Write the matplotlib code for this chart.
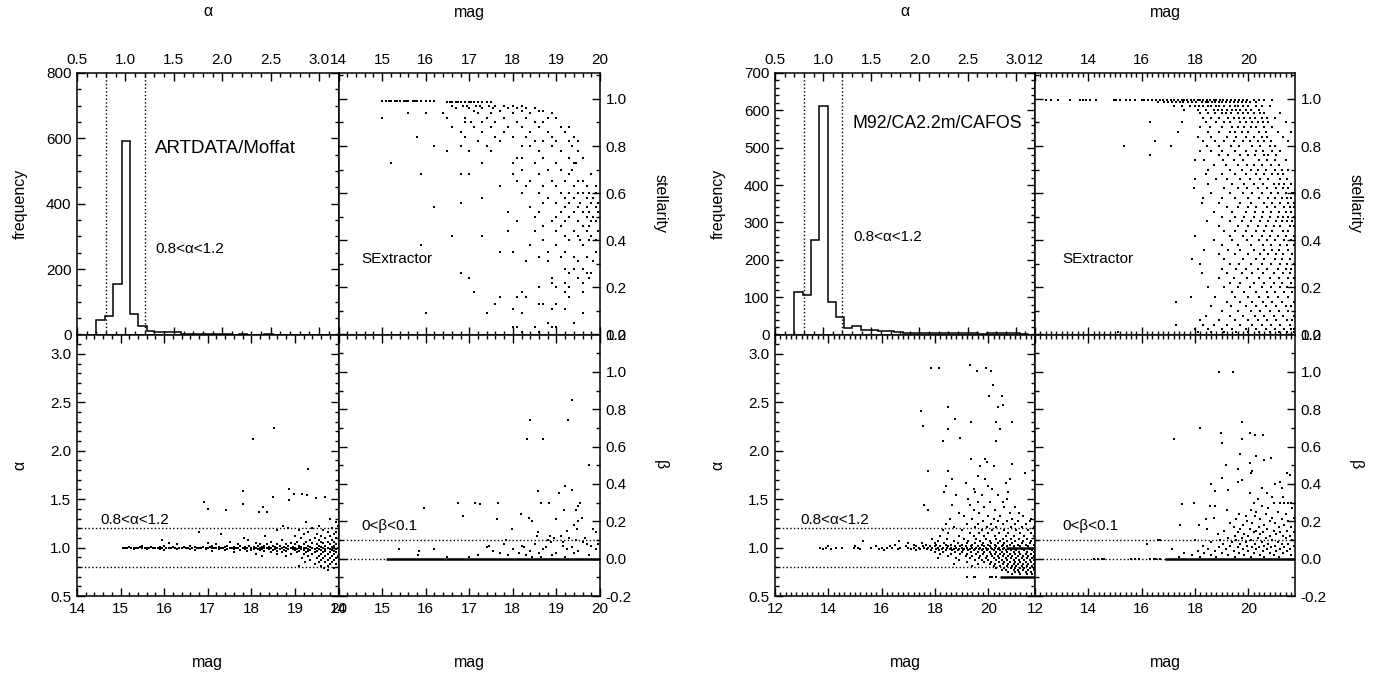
import numpy as np
import matplotlib
matplotlib.use('Agg')
import matplotlib.pyplot as plt
from matplotlib.ticker import MultipleLocator

plt.rcParams['font.family'] = ['Liberation Sans', 'DejaVu Sans']

# ---------------- data ----------------
hist_edges = [0.70, 0.79, 0.87, 0.96, 1.05, 1.13, 1.22, 1.30, 1.39, 1.48, 1.57, 1.65, 1.74, 1.83,
              1.91, 2.00, 2.09, 2.17, 2.26, 2.35, 2.43, 2.52, 2.61, 2.70, 2.78, 2.87, 2.96, 3.04, 3.13]
hist_left = [44, 56, 153, 592, 63, 27, 12, 8, 7, 8, 3, 2, 2, 1, 1, 1, 0, 1, 0, 0, 1, 0, 0, 0, 0, 0, 0, 0]
hist_right = [114, 107, 252, 613, 87, 47, 18, 24, 12, 12, 9, 9, 8, 5, 3, 3, 3, 3, 4, 4, 4, 3, 2, 3, 3, 4, 4, 2]

# rows: (value, [mag, mag, ...])
stel_left = [
    (0.99, [15.0, 15.1, 15.15, 15.2, 15.3, 15.35, 15.4, 15.5, 15.55, 15.6, 15.7, 15.75, 15.8, 15.9, 16.0, 16.1, 16.2]),
    (0.985, [16.5, 16.55, 16.6, 16.7, 16.75, 16.8, 16.9, 17.0, 17.05, 17.1, 17.2, 17.3, 17.4, 17.5]),
    (0.97, [16.6, 16.85, 16.95, 17.15, 17.25, 17.45, 17.6, 17.8, 18.0, 18.2]),
    (0.96, [16.7, 17.0, 17.3, 17.55, 17.9, 18.1, 18.3, 18.5]),
    (0.95, [17.1, 17.7, 18.2, 18.6, 18.7]),
    (0.94, [15.6, 16.0, 16.4, 17.2, 17.5, 18.0, 18.4, 18.9]),
    (0.92, [15.0, 16.5, 16.9, 17.4, 17.8, 18.3, 18.8, 19.0]),
    (0.90, [16.9, 17.05, 17.3, 17.6, 18.1, 18.5, 18.7]),
    (0.88, [16.6, 17.1, 17.5, 17.9, 18.2, 18.6, 19.1, 19.3]),
    (0.86, [16.8, 17.3, 17.8, 18.4, 18.8, 19.2]),
    (0.84, [15.8, 16.9, 17.6, 18.0, 18.3, 18.9, 19.4]),
    (0.82, [17.2, 17.7, 18.5, 18.7, 19.0, 19.3, 19.5]),
    (0.80, [16.2, 16.8, 17.4, 18.2, 18.4, 18.9, 19.35]),
    (0.78, [16.5, 17.0, 17.5, 18.6, 19.1, 19.5]),
    (0.75, [18.1, 18.2, 18.7, 19.3, 19.6]),
    (0.73, [15.2, 17.3, 18.0, 18.5, 19.0, 19.4, 19.45]),
    (0.70, [18.2, 18.8, 19.1, 19.35]),
    (0.68, [15.9, 16.8, 17.0, 18.0, 18.6, 19.3, 19.8]),
    (0.65, [18.1, 18.4, 18.9, 19.2, 19.5, 19.6]),
    (0.63, [17.7, 18.3, 18.7, 19.0, 19.4, 19.7, 19.9]),
    (0.60, [18.2, 18.6, 19.1, 19.3, 19.5, 19.6, 19.75, 19.9]),
    (0.58, [17.3, 18.8, 19.2, 19.4, 19.7, 19.85]),
    (0.56, [16.8, 18.7, 19.0, 19.3, 19.55, 19.8, 19.95]),
    (0.54, [16.2, 18.4, 19.2, 19.5, 19.7, 19.9]),
    (0.52, [17.9, 18.6, 19.1, 19.4, 19.6, 19.75, 19.95]),
    (0.50, [18.5, 19.0, 19.3, 19.7, 19.85]),
    (0.48, [18.1, 18.9, 19.2, 19.5, 19.8, 19.9]),
    (0.46, [18.7, 19.1, 19.6, 19.75]),
    (0.44, [17.9, 18.5, 19.0, 19.4, 19.7, 19.95]),
    (0.42, [16.6, 17.3, 19.2, 19.5, 19.8]),
    (0.40, [18.7, 19.3, 19.55, 19.75, 19.9]),
    (0.38, [15.9, 18.4, 19.0, 19.6]),
    (0.35, [17.7, 18.0, 18.8, 19.2, 19.9]),
    (0.33, [18.6, 19.1, 19.4, 19.7]),
    (0.31, [18.3, 18.8, 19.5, 19.85]),
    (0.28, [19.2, 19.4, 19.6]),
    (0.26, [16.8, 19.3, 19.7, 19.8]),
    (0.24, [17.0, 18.9, 19.5, 19.75]),
    (0.22, [18.9, 19.2, 19.6]),
    (0.20, [18.6, 19.0, 19.3]),
    (0.18, [17.1, 18.2, 19.2, 19.6]),
    (0.16, [17.7, 18.1, 18.3, 19.3]),
    (0.13, [17.6, 18.6, 18.7, 19.0]),
    (0.11, [18.0, 18.9, 19.2]),
    (0.09, [16.0, 17.4, 18.2, 19.6]),
    (0.05, [18.8, 19.4]),
    (0.03, [18.0, 18.1, 18.5, 18.9, 19.0]),
    (0.01, [18.2, 18.6]),
]

alpha_left = [
    (2.23, [18.53]), (2.12, [18.03]), (1.81, [19.3]), (1.60, [18.86]), (1.58, [17.8]),
    (1.55, [18.97, 19.17]), (1.54, [19.27]), (1.52, [18.49, 19.7]), (1.51, [19.49]),
    (1.49, [18.86]), (1.47, [16.92]), (1.45, [17.82]), (1.42, [18.26]), (1.40, [17.0]),
    (1.39, [17.43]), (1.37, [18.18, 18.37]), (1.29, [19.8]), (1.26, [19.25, 19.95]),
    (1.22, [18.72, 19.55, 20.0]), (1.20, [18.83, 19.4, 19.85]), (1.18, [18.58, 19.1, 19.65]),
    (1.16, [16.8, 19.3, 19.75, 19.95]), (1.14, [17.3, 19.2, 19.5, 19.9]),
    (1.12, [18.31, 19.0, 19.6, 19.8]), (1.10, [17.84, 19.15, 19.45, 19.7, 19.95]),
    (1.08, [15.96, 17.93, 18.7, 19.35, 19.55, 19.85]),
    (1.06, [17.5, 18.45, 19.05, 19.25, 19.6, 19.75, 19.9]),
    (1.05, [16.1, 17.0, 18.1, 18.9, 19.4, 19.65]),
    (1.035, [16.3, 17.2, 17.7, 18.2, 18.35, 18.6, 18.8, 19.0, 19.2, 19.5, 19.8, 19.95]),
    (1.02, [15.5, 16.0, 16.6, 17.1, 17.45, 17.75, 17.95, 18.15, 18.3, 18.5, 18.65, 18.85, 19.1, 19.3,
            19.55, 19.7, 19.9]),
    (1.01, [15.2, 15.45, 15.7, 15.9, 16.2, 16.45, 16.7, 16.9, 17.05, 17.25, 17.4, 17.6, 17.85, 18.05,
            18.25, 18.4, 18.55, 18.75, 18.95, 19.15, 19.35, 19.6, 19.85]),
    (1.00, [15.05, 15.1, 15.15, 15.25, 15.3, 15.35, 15.4, 15.5, 15.55, 15.6, 15.65, 15.75, 15.8, 15.85,
            15.95, 16.05, 16.1, 16.15, 16.25, 16.35, 16.4, 16.5, 16.55, 16.65, 16.75, 16.8, 16.85, 16.95,
            17.0, 17.1, 17.15, 17.2, 17.3, 17.35, 17.5, 17.55, 17.65, 17.7, 17.8, 17.9, 18.0, 18.1, 18.2,
            18.3, 18.35, 18.45, 18.6, 18.7, 18.8, 18.9, 19.0, 19.1, 19.2, 19.25, 19.4, 19.5, 19.65, 19.75,
            19.9, 20.0]),
    (0.99, [15.3, 15.6, 15.9, 16.3, 16.6, 16.95, 17.25, 17.45, 17.6, 17.85, 18.05, 18.15, 18.25, 18.4,
            18.55, 18.65, 18.85, 18.95, 19.05, 19.15, 19.3, 19.45, 19.55, 19.7, 19.8, 19.95]),
    (0.98, [16.0, 16.7, 17.4, 17.75, 18.0, 18.2, 18.5, 18.75, 19.0, 19.2, 19.35, 19.6, 19.85]),
    (0.965, [17.1, 17.9, 18.3, 18.6, 18.8, 19.1, 19.3, 19.5, 19.7, 19.9]),
    (0.95, [17.6, 18.45, 18.7, 19.05, 19.25, 19.45, 19.65, 19.8, 19.95]),
    (0.93, [18.1, 18.6, 18.9, 19.2, 19.4, 19.6, 19.75, 19.9]),
    (0.91, [18.24, 18.8, 19.3, 19.55, 19.7, 19.85, 20.0]),
    (0.89, [19.16, 19.5, 19.65, 19.8, 19.95]),
    (0.87, [19.35, 19.6, 19.75, 19.9]),
    (0.85, [19.23, 19.55, 19.7, 19.85]),
    (0.83, [19.45, 19.8, 19.95]),
    (0.81, [19.1, 19.6, 19.75]),
    (0.79, [19.66, 19.9]),
    (0.77, [19.77]),
]

beta_left = [
    (0.85, [19.36]), (0.74, [18.39, 19.26]), (0.64, [18.33, 18.69]), (0.50, [19.75]),
    (0.39, [19.19]), (0.37, [19.36]), (0.36, [18.58]), (0.35, [19.06]),
    (0.30, [16.75, 17.14, 17.67, 18.65, 18.84, 19.54]), (0.29, [17.24]), (0.28, [19.5]),
    (0.27, [15.96]), (0.26, [19.18, 19.45]), (0.24, [18.19]), (0.23, [16.86]),
    (0.22, [18.38, 19.58]), (0.21, [17.63, 19.0]), (0.20, [18.44, 19.5]), (0.18, [19.4]),
    (0.16, [17.98, 19.48, 19.85]), (0.15, [19.25]), (0.14, [18.57, 19.9]),
    (0.12, [18.55, 18.85, 19.1]), (0.11, [18.95, 19.3, 19.65]), (0.10, [17.85, 18.8, 19.45]),
    (0.09, [18.88, 19.15, 19.6]), (0.08, [17.8, 18.5, 19.7, 19.95]),
    (0.07, [17.45, 18.2, 19.15, 19.8]), (0.06, [17.4, 18.25, 18.75, 19.35]),
    (0.05, [15.38, 16.2, 18.0, 18.7, 19.25, 19.9]), (0.04, [15.85, 17.55, 18.4, 19.5]),
    (0.03, [17.7, 18.15, 18.6, 19.0, 19.4]), (0.02, [15.83, 17.2, 17.9, 18.3, 18.9, 19.75]),
    (0.01, [16.5, 17.0, 18.45, 18.65, 19.2]),
]
beta_zero_left = [15.1, 20.0]   # mag range of the dense beta = 0 streak

stel_right = [
    (0.995, [12.4, 12.6, 12.85, 13.3, 13.7, 13.8, 13.9, 14.05, 14.3, 14.95, 15.05, 15.2, 15.4, 15.55, 15.75,
             16.0, 16.1, 16.25, 16.4, 16.55, 16.7, 16.8, 16.95, 17.1, 17.2, 17.35, 17.5, 17.6, 17.7, 17.85,
             17.95, 18.1, 18.2, 18.3, 18.45, 18.55, 18.7, 18.8, 18.95, 19.05, 19.2, 19.35, 19.5, 19.65,
             19.8, 19.95, 20.2, 20.4, 20.6, 20.9]),
    (0.985, [16.6, 16.85, 17.0, 17.15, 17.3, 17.45, 17.55, 17.75, 17.9, 18.05, 18.25, 18.4, 18.5, 18.65,
             18.75, 18.9, 19.0, 19.15, 19.3, 19.45, 19.6, 19.75, 19.9, 20.05, 20.3]),
    (0.97, [17.2, 17.5, 17.8, 18.0, 18.15, 18.3, 18.5, 18.6, 18.8, 18.9, 19.1, 19.3, 19.5, 19.6, 19.8,
            20.0, 20.3, 20.5, 20.8]),
    (0.955, [17.6, 18.1, 18.4, 18.7, 18.85, 19.0, 19.2, 19.4, 19.55, 19.7, 19.9, 20.1, 20.4]),
    (0.94, [18.2, 18.5, 18.75, 19.0, 19.15, 19.35, 19.6, 19.8, 20.0, 20.2, 20.45, 20.6, 21.2]),
    (0.92, [18.3, 18.6, 18.9, 19.25, 19.45, 19.65, 19.85, 20.05, 20.25, 20.5, 20.7, 21.0]),
    (0.90, [16.3, 17.5, 18.4, 18.8, 19.1, 19.3, 19.7, 19.9, 20.15, 20.35, 20.55, 20.75, 21.4]),
    (0.88, [18.2, 18.55, 19.0, 19.4, 19.6, 19.85, 20.1, 20.3, 20.6, 20.9]),
    (0.86, [17.35, 18.5, 18.9, 19.3, 19.5, 19.75, 20.0, 20.4, 20.65, 21.1, 21.6]),
    (0.84, [18.1, 18.6, 19.2, 19.55, 19.9, 20.2, 20.5, 20.7, 21.3]),
    (0.82, [16.5, 18.3, 18.75, 19.1, 19.45, 19.8, 20.05, 20.35, 20.6, 20.85, 21.5]),
    (0.80, [15.35, 17.1, 18.45, 18.9, 19.35, 19.65, 20.15, 20.45, 20.8, 21.0]),
    (0.78, [18.2, 18.6, 19.0, 19.5, 19.9, 20.3, 20.55, 20.9, 21.2]),
    (0.76, [16.3, 18.9, 19.25, 19.7, 20.0, 20.25, 20.6, 20.75, 21.05]),
    (0.74, [18.0, 18.35, 19.05, 19.45, 19.8, 20.4, 20.7, 21.0, 21.4]),
    (0.72, [18.7, 19.15, 19.6, 19.95, 20.2, 20.5, 20.85, 21.15]),
    (0.70, [18.5, 19.3, 19.75, 20.1, 20.35, 20.65, 21.0, 21.25, 21.5]),
    (0.68, [18.4, 19.0, 19.5, 19.9, 20.3, 20.6, 20.9, 21.1, 21.3]),
    (0.66, [18.0, 18.8, 19.2, 19.7, 20.05, 20.45, 20.75, 21.2, 21.45]),
    (0.64, [18.5, 19.4, 19.85, 20.2, 20.55, 20.95, 21.15, 21.35, 21.6]),
    (0.62, [17.98, 19.1, 19.6, 19.95, 20.35, 20.7, 21.05, 21.3, 21.5]),
    (0.60, [18.6, 19.3, 19.8, 20.15, 20.5, 20.85, 21.1, 21.4, 21.65, 21.72]),
    (0.58, [18.3, 19.0, 19.5, 20.0, 20.4, 20.75, 21.0, 21.25, 21.45, 21.6]),
    (0.56, [18.25, 18.9, 19.7, 20.1, 20.6, 20.9, 21.2, 21.5, 21.7]),
    (0.54, [19.2, 19.6, 20.0, 20.3, 20.7, 21.0, 21.35, 21.55, 21.72]),
    (0.52, [18.7, 19.4, 19.9, 20.25, 20.55, 20.85, 21.15, 21.4, 21.6]),
    (0.50, [19.0, 19.5, 19.85, 20.2, 20.5, 20.8, 21.1, 21.3, 21.5, 21.7]),
    (0.48, [18.45, 19.3, 19.75, 20.1, 20.45, 20.75, 21.05, 21.25, 21.45, 21.65]),
    (0.46, [18.9, 19.6, 20.0, 20.35, 20.65, 20.95, 21.2, 21.55, 21.7]),
    (0.44, [19.1, 19.5, 19.9, 20.3, 20.6, 20.9, 21.3, 21.5]),
    (0.42, [18.0, 19.3, 19.8, 20.15, 20.5, 20.8, 21.1, 21.4, 21.7]),
    (0.40, [18.7, 19.4, 19.95, 20.4, 20.7, 21.0, 21.35, 21.6]),
    (0.38, [19.0, 19.6, 20.1, 20.55, 20.85, 21.2, 21.45, 21.7]),
    (0.36, [18.35, 19.25, 19.7, 20.2, 20.6, 20.9, 21.15, 21.5]),
    (0.34, [18.9, 19.5, 20.0, 20.45, 20.75, 21.05, 21.3, 21.65]),
    (0.32, [17.9, 19.1, 19.8, 20.3, 20.6, 21.0, 21.25, 21.55]),
    (0.30, [18.2, 19.3, 19.65, 20.1, 20.5, 20.85, 21.2, 21.45, 21.7]),
    (0.28, [19.0, 19.55, 19.9, 20.35, 20.7, 21.1, 21.4, 21.6]),
    (0.26, [18.25, 19.2, 19.75, 20.15, 20.55, 20.95, 21.3, 21.55]),
    (0.24, [18.9, 19.45, 19.95, 20.4, 20.8, 21.15, 21.5, 21.7]),
    (0.22, [19.3, 19.7, 20.2, 20.6, 20.95, 21.25, 21.6]),
    (0.20, [18.5, 19.1, 19.6, 20.05, 20.5, 20.85, 21.2, 21.45]),
    (0.18, [19.4, 19.85, 20.3, 20.7, 21.0, 21.35, 21.65]),
    (0.16, [17.85, 18.75, 19.5, 20.0, 20.4, 20.75, 21.1, 21.5]),
    (0.14, [17.3, 19.2, 19.7, 20.15, 20.55, 20.9, 21.25, 21.7]),
    (0.12, [18.6, 19.35, 19.9, 20.3, 20.65, 21.05, 21.4, 21.6]),
    (0.10, [19.0, 19.6, 20.1, 20.45, 20.8, 21.15, 21.5]),
    (0.08, [18.4, 19.3, 19.8, 20.25, 20.6, 20.95, 21.3, 21.7]),
    (0.06, [18.2, 18.9, 19.5, 20.0, 20.35, 20.7, 21.05, 21.45, 21.65]),
    (0.04, [17.3, 18.3, 18.7, 19.2, 19.7, 20.15, 20.5, 20.85, 21.2, 21.55]),
    (0.025, [18.0, 18.5, 19.0, 19.4, 19.9, 20.3, 20.65, 21.0, 21.35, 21.6, 21.72]),
    (0.01, [15.1, 18.1, 18.6, 19.1, 19.55, 20.0, 20.4, 20.8, 21.15, 21.45, 21.7]),
]

alpha_right = [
    (2.89, [19.33]), (2.85, [17.85, 18.16, 19.93]), (2.82, [19.58, 20.1]), (2.68, [20.19]),
    (2.56, [20.04, 20.5]), (2.47, [20.55]), (2.45, [18.5, 20.38]), (2.41, [17.48]), (2.33, [18.75]),
    (2.30, [19.35, 20.28, 20.88]), (2.26, [17.54]), (2.22, [18.5, 20.44]), (2.13, [18.95]),
    (2.10, [18.3, 20.3]), (1.91, [19.35, 19.86]), (1.88, [19.95]), (1.86, [20.9]), (1.84, [19.7, 20.2]),
    (1.79, [17.75, 18.5]), (1.77, [21.37]), (1.74, [19.62]), (1.71, [18.65, 19.88, 20.8]),
    (1.67, [19.15, 20.65]), (1.64, [18.4, 20.0]), (1.60, [19.45, 20.15]), (1.57, [18.35, 19.5, 20.75]),
    (1.54, [18.8, 19.75, 20.35]), (1.50, [19.25, 20.7]), (1.47, [19.6, 20.05, 20.55]),
    (1.44, [17.6, 18.65, 19.3]), (1.42, [19.85, 20.6, 21.0]), (1.39, [17.75, 19.45, 20.25]),
    (1.36, [18.9, 19.65, 20.8, 21.15]), (1.33, [19.1, 20.0, 20.45, 21.3]),
    (1.30, [18.55, 19.4, 20.2, 20.9, 21.6]), (1.27, [19.8, 20.35, 20.7, 21.1, 21.55]),
    (1.24, [18.4, 19.2, 19.6, 20.1, 20.55, 21.0, 21.4]),
    (1.21, [18.7, 19.5, 19.95, 20.3, 20.85, 21.25, 21.7]),
    (1.18, [18.3, 19.0, 19.75, 20.15, 20.6, 21.05, 21.5]),
    (1.15, [18.5, 19.3, 19.65, 20.0, 20.4, 20.75, 21.2, 21.6]),
    (1.12, [18.2, 18.9, 19.45, 19.85, 20.25, 20.65, 20.95, 21.35, 21.7]),
    (1.09, [17.9, 18.45, 19.1, 19.55, 19.9, 20.3, 20.55, 20.85, 21.15, 21.45]),
    (1.07, [15.3, 16.65, 18.1, 18.7, 19.25, 19.7, 20.05, 20.45, 20.7, 21.0, 21.3, 21.6]),
    (1.05, [17.0, 17.5, 18.0, 18.35, 18.85, 19.2, 19.5, 19.8, 20.1, 20.35, 20.6, 20.9, 21.25, 21.55]),
    (1.03, [16.5, 17.2, 17.65, 18.05, 18.4, 18.6, 19.0, 19.4, 19.75, 20.0, 20.25, 20.55, 20.8, 21.1,
            21.4, 21.7]),
    (1.015, [14.0, 15.0, 15.8, 16.3, 16.9, 17.3, 17.55, 17.8, 18.0, 18.2, 18.5, 18.75, 18.95, 19.15,
             19.35, 19.6, 19.85, 20.05, 20.3, 20.5, 20.7, 20.95, 21.2, 21.5]),
    (1.00, [13.7, 13.9, 14.3, 14.5, 14.95, 15.1, 15.6, 16.0, 16.2, 16.4, 16.7, 17.0, 17.2, 17.4, 17.6,
            17.75, 17.9, 18.1, 18.3, 18.45, 18.6, 18.8, 19.0, 19.2, 19.4, 19.55, 19.7, 19.9, 20.1, 20.25,
            20.4, 20.6]),
    (0.985, [13.8, 14.1, 15.2, 15.9, 16.6, 17.1, 17.45, 17.7, 18.05, 18.25, 18.55, 18.7, 18.9, 19.1,
             19.3, 19.5, 19.65, 19.8, 20.0, 20.15, 20.35, 20.55, 20.75, 21.0, 21.25, 21.55]),
    (0.97, [16.1, 17.3, 17.85, 18.15, 18.4, 18.65, 18.85, 19.05, 19.25, 19.45, 19.75, 19.95, 20.2, 20.45,
            20.65, 20.85, 21.05, 21.35, 21.65]),
    (0.95, [18.0, 18.3, 18.75, 19.0, 19.35, 19.6, 19.85, 20.05, 20.3, 20.5, 20.7, 20.95, 21.15, 21.45, 21.7]),
    (0.93, [18.2, 18.6, 18.95, 19.2, 19.55, 19.8, 20.1, 20.25, 20.45, 20.6, 20.8, 21.0, 21.2, 21.4, 21.6]),
    (0.91, [18.5, 19.15, 19.4, 19.7, 19.95, 20.15, 20.35, 20.55, 20.75, 20.9, 21.1, 21.3, 21.5, 21.7]),
    (0.89, [18.1, 18.8, 19.3, 19.65, 19.9, 20.2, 20.4, 20.65, 20.85, 21.05, 21.25, 21.45, 21.65]),
    (0.87, [18.9, 19.5, 19.75, 20.0, 20.3, 20.5, 20.7, 20.95, 21.15, 21.35, 21.55, 21.72]),
    (0.85, [19.2, 19.85, 20.1, 20.4, 20.6, 20.8, 21.0, 21.2, 21.4, 21.6]),
    (0.83, [18.7, 19.6, 20.05, 20.25, 20.55, 20.75, 20.95, 21.1, 21.3, 21.5, 21.7]),
    (0.81, [19.4, 20.2, 20.45, 20.7, 20.9, 21.05, 21.25, 21.45, 21.65]),
    (0.79, [20.3, 20.6, 20.85, 21.0, 21.2, 21.35, 21.55, 21.72]),
    (0.77, [20.5, 20.65, 20.95, 21.1, 21.3, 21.5, 21.7]),
    (0.75, [20.75, 21.0, 21.15, 21.4, 21.6]),
    (0.73, [20.9, 21.2, 21.45, 21.65]),
    (0.70, [19.2, 19.45, 19.5, 20.05, 20.15, 20.3]),
]
alpha_one_right = [20.65, 21.75]     # dense alpha = 1.0 streak
alpha_low_right = [20.45, 21.75]     # dense alpha = 0.7 streak

beta_right = [
    (1.00, [18.91, 19.44]), (0.73, [19.75]), (0.70, [18.18]), (0.67, [18.96, 20.07]),
    (0.66, [20.25, 20.54]), (0.64, [17.2, 19.75]), (0.62, [19.0]), (0.56, [19.7]), (0.55, [20.3]),
    (0.54, [20.85]), (0.53, [20.6]), (0.51, [20.05]), (0.50, [19.15]), (0.48, [19.6]), (0.47, [20.15]),
    (0.46, [20.1, 21.45]), (0.45, [21.55]), (0.43, [19.0]), (0.42, [19.75]), (0.41, [19.6, 21.2]),
    (0.40, [18.6, 21.0]), (0.38, [20.5, 21.25]), (0.37, [19.25]), (0.36, [18.75]), (0.35, [20.05, 20.7]),
    (0.33, [20.9, 21.3]), (0.32, [20.35]), (0.30, [17.97, 20.2, 20.95, 21.2, 21.35, 21.5, 21.6]),
    (0.29, [17.53]), (0.28, [18.55, 18.75, 20.5]), (0.27, [20.75, 21.65]), (0.26, [19.2, 20.1]),
    (0.25, [20.3, 21.1]), (0.24, [19.65, 20.65, 21.4]), (0.23, [19.9, 20.25]),
    (0.22, [18.7, 20.9, 21.7]), (0.21, [18.4, 19.55, 20.45, 21.25]), (0.20, [19.95, 20.8, 21.5]),
    (0.19, [19.3, 20.15, 21.0]), (0.18, [17.43, 18.15, 19.8, 20.6, 21.35]),
    (0.17, [19.45, 20.4, 21.15, 21.6]), (0.16, [18.45, 19.7, 20.05, 20.7]),
    (0.15, [19.1, 20.3, 20.95, 21.45]), (0.14, [19.6, 20.2, 20.55, 21.2, 21.7]),
    (0.13, [18.85, 19.85, 20.45, 21.05]), (0.12, [19.5, 20.0, 20.8, 21.3, 21.55]),
    (0.11, [19.25, 19.75, 20.35, 20.65, 21.4]),
    (0.10, [16.6, 16.67, 18.0, 18.95, 19.55, 20.1, 20.9, 21.65]),
    (0.09, [18.6, 19.4, 19.9, 20.5, 21.1]), (0.08, [16.2, 19.05, 19.7, 20.25, 20.75, 21.25, 21.5]),
    (0.07, [18.3, 19.3, 19.95, 20.6, 21.0, 21.7]), (0.06, [18.9, 19.6, 20.15, 20.4, 20.85, 21.35]),
    (0.05, [17.15, 18.5, 19.15, 19.8, 20.3, 20.7, 21.2, 21.55]),
    (0.04, [18.1, 18.75, 19.45, 20.0, 20.55, 21.05, 21.45]),
    (0.03, [17.6, 18.35, 19.0, 19.65, 20.2, 20.8, 21.3]),
    (0.02, [17.9, 18.6, 19.25, 19.85, 20.45, 20.95, 21.6]),
    (0.01, [17.4, 18.2, 18.8, 19.5, 20.1, 20.6, 21.15]),
    (0.00, [14.2, 14.35, 14.5, 14.6, 15.6, 15.75, 15.9, 16.3, 16.45, 16.55, 16.7]),
]
beta_zero_right = [16.87, 21.75]     # dense beta = 0 streak

alpha_cut = [0.8, 1.2]
beta_cut = [0.0, 0.1]

# ---------------- layout ----------------
W, H = 1382, 675
fig = plt.figure(figsize=(W / 100, H / 100), dpi=100)

groups = [
    dict(x0=77, pw=261.5, hist=hist_left, hmax=800, hmaj=200, hmin=50,
         mag=(14, 20), mmaj=1, mmin=0.2, stel=stel_left, alpha=alpha_left, beta=beta_left,
         bzero=beta_zero_left, title='ARTDATA/Moffat', title_fs=13.5, extra=None),
    dict(x0=775, pw=260, hist=hist_right, hmax=700, hmaj=100, hmin=20,
         mag=(12, 21.75), mmaj=2, mmin=0.2, stel=stel_right, alpha=alpha_right, beta=beta_right,
         bzero=beta_zero_right, title='M92/CA2.2m/CAFOS', title_fs=12.8,
         extra=(alpha_one_right, alpha_low_right)),
]

TOP, MID, BOT = 73, 334.5, 596
PH = MID - TOP
TICK_FS = 11
LAB_FS = 11.5
ANN_FS = 11


def rows_xy(rows):
    xs, ys = [], []
    for val, mags in rows:
        xs.extend(mags)
        ys.extend([val] * len(mags))
    return np.array(xs), np.array(ys)


def make_ax(x_px, y_px, w_px, h_px):
    return fig.add_axes([x_px / W, 1 - (y_px + h_px) / H, w_px / W, h_px / H])


def style(ax, xmaj, xmin, ymaj, ymin, lt, lb, ll, lr):
    ax.xaxis.set_major_locator(MultipleLocator(xmaj))
    ax.xaxis.set_minor_locator(MultipleLocator(xmin))
    ax.yaxis.set_major_locator(MultipleLocator(ymaj))
    ax.yaxis.set_minor_locator(MultipleLocator(ymin))
    ax.tick_params(which='both', direction='in', top=True, bottom=True, left=True, right=True,
                   labeltop=lt, labelbottom=lb, labelleft=ll, labelright=lr,
                   labelsize=TICK_FS, width=1.0, pad=4)
    ax.tick_params(which='major', length=6)
    ax.tick_params(which='minor', length=3)
    for s in ax.spines.values():
        s.set_linewidth(1.1)


def pts(ax, rows):
    x, y = rows_xy(rows)
    ax.scatter(x, y, s=4.2, marker='s', color='black', linewidths=0)


def fmt1(v, pos):
    return f'{v:.1f}'


for g in groups:
    x0, pw = g['x0'], g['pw']
    left = g['extra'] is None
    # histogram
    a1 = make_ax(x0, TOP, pw, PH)
    a1.stairs(g['hist'], hist_edges, color='black', linewidth=1.1, baseline=0)
    for c in alpha_cut:
        a1.axvline(c, color='black', linestyle=':', linewidth=1.0)
    a1.set_xlim(0.5, 3.2)
    a1.set_ylim(0, g['hmax'])
    style(a1, 0.5, 0.1, g['hmaj'], g['hmin'], True, False, True, False)
    a1.xaxis.set_major_formatter(fmt1)
    a1.text(0.3, 0.71 if left else 0.805, g['title'], transform=a1.transAxes,
            fontsize=g['title_fs'], va='center', ha='left')
    a1.text(0.3, 0.327 if left else 0.372, '0.8<α<1.2', transform=a1.transAxes,
            fontsize=ANN_FS, va='center', ha='left')

    # stellarity
    a2 = make_ax(x0 + pw, TOP, pw, PH)
    pts(a2, g['stel'])
    a2.set_xlim(*g['mag'])
    a2.set_ylim(0, 1.11)
    style(a2, g['mmaj'], g['mmin'], 0.2, 0.1, True, False, False, True)
    a2.yaxis.set_major_formatter(fmt1)
    a2.text(0.089 if left else 0.106, 0.288, 'SExtractor', transform=a2.transAxes,
            fontsize=ANN_FS, va='center', ha='left')

    # alpha vs mag
    a3 = make_ax(x0, MID, pw, PH)
    for c in alpha_cut:
        a3.axhline(c, color='black', linestyle=':', linewidth=1.0)
    pts(a3, g['alpha'])
    if not left:
        a3.plot(g['extra'][0], [1.0, 1.0], color='black', linewidth=1.8, solid_capstyle='butt')
        a3.plot(g['extra'][1], [0.7, 0.7], color='black', linewidth=1.8, solid_capstyle='butt')
    a3.set_xlim(*g['mag'])
    a3.set_ylim(0.5, 3.2)
    style(a3, g['mmaj'], g['mmin'], 0.5, 0.1, False, True, True, False)
    a3.yaxis.set_major_formatter(fmt1)
    a3.text(0.088 if left else 0.099, 0.29, '0.8<α<1.2', transform=a3.transAxes,
            fontsize=ANN_FS, va='center', ha='left')

    # beta vs mag
    a4 = make_ax(x0 + pw, MID, pw, PH)
    for c in beta_cut:
        a4.axhline(c, color='black', linestyle=':', linewidth=1.0)
    pts(a4, g['beta'])
    a4.plot(g['bzero'], [0.0, 0.0], color='black', linewidth=1.8, solid_capstyle='butt')
    a4.set_xlim(*g['mag'])
    a4.set_ylim(-0.2, 1.2)
    style(a4, g['mmaj'], g['mmin'], 0.2, 0.1, False, True, False, True)
    a4.yaxis.set_major_formatter(fmt1)
    a4.text(0.089 if left else 0.106, 0.269, '0<β<0.1', transform=a4.transAxes,
            fontsize=ANN_FS, va='center', ha='left')

    # outer axis titles
    cx1 = x0 + pw / 2
    cx2 = x0 + 1.5 * pw
    fig.text(cx1 / W, 1 - 12 / H, 'α', fontsize=LAB_FS, ha='center', va='center')
    fig.text(cx2 / W, 1 - 12 / H, 'mag', fontsize=LAB_FS, ha='center', va='center')
    fig.text(cx1 / W, 1 - 662 / H, 'mag', fontsize=LAB_FS, ha='center', va='center')
    fig.text(cx2 / W, 1 - 662 / H, 'mag', fontsize=LAB_FS, ha='center', va='center')
    fig.text((x0 - 57) / W, 1 - 204 / H, 'frequency', fontsize=LAB_FS, ha='center', va='center',
             rotation=90)
    fig.text((x0 - 57) / W, 1 - 465 / H, 'α', fontsize=LAB_FS, ha='center', va='center', rotation=90)
    fig.text((x0 + 2 * pw + 60) / W, 1 - 204 / H, 'stellarity', fontsize=LAB_FS, ha='center',
             va='center', rotation=270)
    fig.text((x0 + 2 * pw + 60) / W, 1 - 465 / H, 'β', fontsize=LAB_FS, ha='center', va='center',
             rotation=270)

fig.savefig('out.png', dpi=100)
